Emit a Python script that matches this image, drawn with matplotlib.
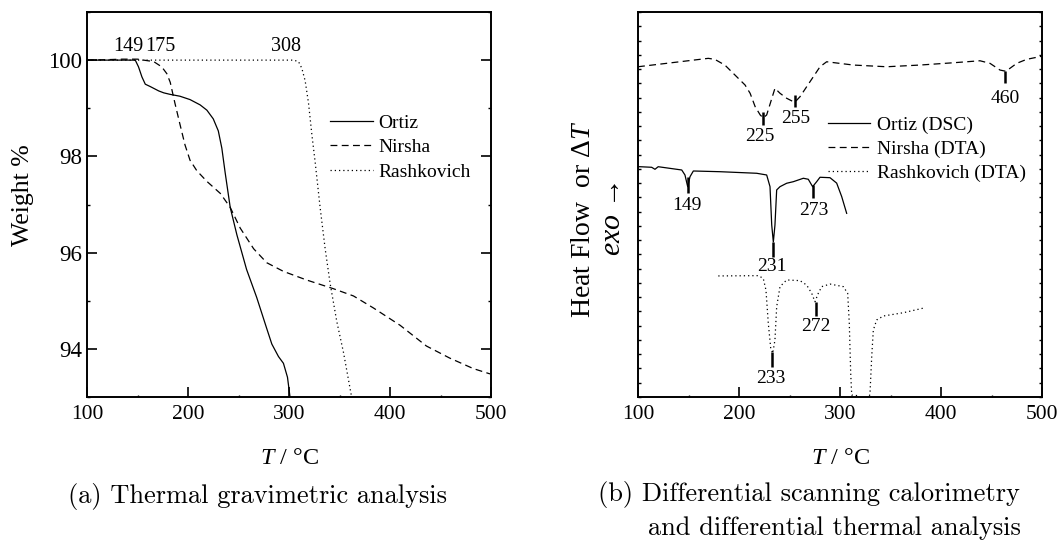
import matplotlib
matplotlib.use("Agg")
import matplotlib.pyplot as plt
from matplotlib.ticker import MultipleLocator, FixedLocator, NullFormatter

plt.rcParams['font.family'] = ['Liberation Serif', 'DejaVu Serif']
plt.rcParams['mathtext.fontset'] = 'custom'
plt.rcParams['mathtext.rm'] = 'Liberation Serif'
plt.rcParams['mathtext.it'] = 'Liberation Serif:italic'

# ---------------- (a) TGA data ----------------
ortiz_T = [100, 120, 140, 147.8, 151, 154.4, 157.7, 162.7, 171, 176, 182, 192, 202, 212, 218.7, 225, 230, 233.5, 236.8,
           241.8, 248.4, 258, 268, 278, 283, 289.6, 294.5, 298.5, 301]
ortiz_W = [100.0, 100.0, 100.0, 100.0, 99.86, 99.65, 99.50, 99.45, 99.36, 99.32, 99.29, 99.25, 99.18, 99.07, 98.96, 98.78,
           98.53, 98.17, 97.66, 96.94, 96.37, 95.65, 95.07, 94.42, 94.10, 93.84, 93.70, 93.41, 93.0]

nirsha_T = [100, 120, 135, 150, 156, 166, 174, 179, 182.4, 187, 192, 197, 202, 208.8, 218.7, 232, 241.8, 251.7, 265, 278,
            294.5, 317.6, 344, 363.8, 383.6, 410, 436, 459, 482.5, 499]
nirsha_W = [100.0, 100.01, 100.02, 100.02, 100.0, 99.97, 99.86, 99.72, 99.54, 99.11, 98.67, 98.24, 97.92, 97.70, 97.48,
            97.23, 96.94, 96.51, 96.08, 95.79, 95.61, 95.43, 95.25, 95.10, 94.85, 94.49, 94.06, 93.81, 93.59, 93.48]

rash_T = [100, 200, 300, 304.5, 309.4, 312.7, 316, 319.3, 322.6, 325.9, 330.8, 335.8, 340.7, 347.3, 354, 362]
rash_W = [100.0, 100.0, 100.0, 100.0, 99.97, 99.83, 99.57, 99.11, 98.46, 97.88, 96.94, 96.08, 95.36, 94.57, 93.92, 93.0]

tga_labels = ["149", "175", "308"]
tga_label_T = [140.5, 173.0, 297.5]
tga_label_W = [100.29, 100.29, 100.29]

# ---------------- (b) DSC / DTA data (arbitrary units) ----------------
dsc_T = [100, 102, 113.5, 116.8, 120, 143.3, 146.5, 149.2, 151.5, 154.8, 181.2, 217.5, 227.4, 230.7, 232.4, 234, 235.6,
         237.3, 240.6, 247.2, 253.8, 263.7, 268.6, 272.9, 276.9, 280.2, 290.1, 296.7, 301.7, 306.6]
dsc_V = [16.15, 16.15, 16.11, 15.97, 16.15, 15.92, 15.57, 14.75, 15.45, 15.85, 15.80, 15.69, 15.57, 14.75, 12.06, 10.87, 12.06,
         14.52, 14.75, 14.99, 15.10, 15.34, 15.27, 14.75, 15.10, 15.41, 15.38, 15.00, 14.05, 12.88]

dta_n_T = [100, 169.6, 176, 186, 196, 206, 211, 216, 221, 224, 227.4, 235.6, 240.6, 247.2, 253.8, 255.5, 260.4, 270.3, 280.2,
           286.8, 313.2, 346.2, 379.2, 412.2, 438.6, 448.5, 458.4, 463, 465, 475, 484.8, 498, 500]
dta_n_V = [23.16, 23.75, 23.68, 23.28, 22.58, 21.88, 21.30, 20.36, 19.78, 19.57, 19.78, 21.65, 21.30, 20.95, 20.71, 20.69, 21.06,
           22.11, 23.16, 23.51, 23.28, 23.16, 23.28, 23.44, 23.58, 23.40, 22.93, 22.86, 22.88, 23.40, 23.68, 23.87, 23.91]

dta_r_T = [179.5, 219.1, 224, 226.7, 229, 231.4, 233.4, 235.6, 237.3, 240.6, 247.2, 260.4, 267, 272, 275.2, 278.5, 281.9,
           290.1, 303.3, 307.6, 309.2, 310.6, 311.6, 318.1, 322, 326, 329.7, 331.4, 333, 336.3, 342.9, 362.7, 384.2]
dta_r_V = [8.49, 8.51, 8.32, 7.50, 5.17, 3.42, 3.06, 4.00, 6.33, 7.74, 8.21, 8.16, 7.85, 7.27, 6.68, 7.27, 7.74,
           7.92, 7.74, 7.27, 5.17, 1.66, 0.14, 0.09, -1.0, -1.0, 0.26, 2.83, 4.70, 5.40, 5.68, 5.91, 6.26]

peak_labels = ["225", "255", "460", "149", "273", "231", "272", "233"]
peak_T = [224, 255.4, 463.4, 149.8, 272.9, 234, 276.2, 232.5]
peak_top = [20.01, 21.18, 22.88, 15.45, 14.87, 10.89, 6.68, 3.18]
peak_bot = [19.08, 20.36, 22.00, 14.29, 13.96, 9.84, 5.68, 2.12]
peak_label_T = [220.8, 256.2, 463.4, 148.2, 273.6, 232.7, 276.0, 231.9]
peak_label_V = [18.25, 19.50, 20.95, 13.46, 13.07, 9.14, 4.93, 1.31]

# ---------------- figure ----------------
W, H = 1059, 542
fig = plt.figure(figsize=(W / 100, H / 100), dpi=100)
axa = fig.add_axes([87 / W, (H - 397) / H, 404 / W, 385 / H])
axb = fig.add_axes([638 / W, (H - 397) / H, 404 / W, 385 / H])

lw = 0.9
dash = (5.5, 3.5)
dot = (1.0, 2.4)

for ax in (axa, axb):
    for s in ax.spines.values():
        s.set_linewidth(1.4)
    ax.set_xlim(100, 500)
    ax.xaxis.set_major_locator(MultipleLocator(100))
    ax.xaxis.set_minor_locator(MultipleLocator(50))
    ax.tick_params(axis='x', which='major', direction='in', length=7, width=1.2, top=False, labelsize=15.5, pad=6)
    ax.tick_params(axis='x', which='minor', direction='in', length=1.5, width=1.0, top=False)

# (a)
axa.plot(ortiz_T, ortiz_W, color='black', lw=lw, label='Ortiz')
axa.plot(nirsha_T, nirsha_W, color='black', lw=lw, dashes=dash, label='Nirsha')
axa.plot(rash_T, rash_W, color='black', lw=lw, dashes=dot, label='Rashkovich')
axa.set_ylim(93, 101)
axa.yaxis.set_major_locator(FixedLocator([94, 96, 98, 100]))
axa.yaxis.set_minor_locator(FixedLocator([93, 95, 97, 99, 101]))
axa.tick_params(axis='y', which='major', direction='in', length=7, width=1.2, right=True, labelsize=16.5, pad=3.5)
axa.tick_params(axis='y', which='minor', direction='in', length=2, width=1.0, right=True)
for t, x, y in zip(tga_labels, tga_label_T, tga_label_W):
    axa.text(x, y, t, ha='center', va='center', fontsize=14.5)
axa.legend(loc='upper left', bbox_to_anchor=(0.601, 0.735), frameon=False, fontsize=14,
           handlelength=2.2, handletextpad=0.3, labelspacing=0.36, borderpad=0, borderaxespad=0)
axa.set_xlabel(r'$T$ / °C', fontsize=17.5)
axa.xaxis.set_label_coords(0.5, -0.132)
fig.text(22.5 / W, 1 - 195 / H, 'Weight %', rotation=90, ha='center', va='center', fontsize=18.5)

# (b)
axb.plot(dsc_T, dsc_V, color='black', lw=lw, label='Ortiz (DSC)')
axb.plot(dta_n_T, dta_n_V, color='black', lw=lw, dashes=dash, label='Nirsha (DTA)')
axb.plot(dta_r_T, dta_r_V, color='black', lw=lw, dashes=dot, label='Rashkovich (DTA)')
axb.set_ylim(0, 27)
axb.yaxis.set_major_locator(FixedLocator([]))
axb.yaxis.set_minor_locator(MultipleLocator(1))
axb.yaxis.set_minor_formatter(NullFormatter())
axb.tick_params(axis='y', which='minor', direction='in', length=2.2, width=1.0, left=True, right=True)
for x, y0, y1 in zip(peak_T, peak_bot, peak_top):
    axb.vlines(x, y0, y1, color='black', lw=1.8)
for t, x, y in zip(peak_labels, peak_label_T, peak_label_V):
    axb.text(x, y, t, ha='center', va='center', fontsize=14)
axb.legend(loc='upper left', bbox_to_anchor=(0.471, 0.729), frameon=False, fontsize=14,
           handlelength=2.15, handletextpad=0.35, labelspacing=0.33, borderpad=0, borderaxespad=0)
axb.set_xlabel(r'$T$ / °C', fontsize=17.5)
axb.xaxis.set_label_coords(0.5, -0.132)
fig.text(583 / W, 1 - 219 / H, r'Heat Flow  or Δ$T$', rotation=90, ha='center', va='center', fontsize=20)
fig.text(613 / W, 1 - 218.5 / H, r'$exo$ →', rotation=90, ha='center', va='center', fontsize=21.5)

# captions
cap = dict(family='cmr10', fontsize=19)
fig.text(258 / W, 1 - 497 / H, '(a) Thermal gravimetric analysis', ha='center', va='center', **cap)
fig.text(598 / W, 1 - 495 / H, '(b) Differential scanning calorimetry', ha='left', va='center', **cap)
fig.text(648 / W, 1 - 528 / H, 'and differential thermal analysis', ha='left', va='center', **cap)

fig.savefig('out.png', dpi=100)
